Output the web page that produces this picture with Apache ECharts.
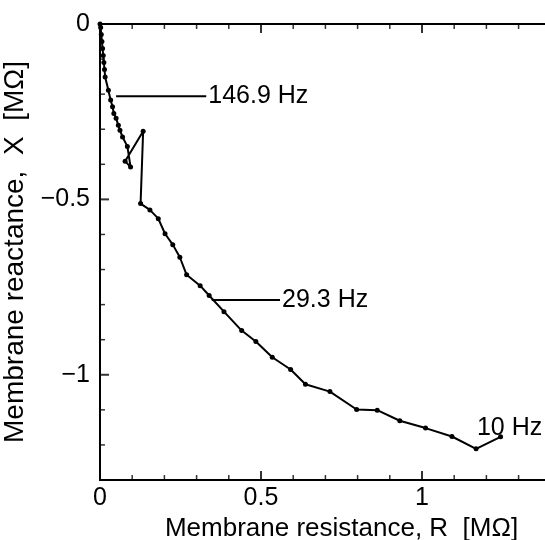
<!DOCTYPE html>
<html>
<head>
<meta charset="utf-8">
<script src="https://cdn.jsdelivr.net/npm/echarts@6/dist/echarts.min.js"></script>
<style>
  html,body{margin:0;padding:0;background:#fff;}
  #graph1{width:545px;height:540px;}
</style>
</head>
<body>
<div id="graph1"></div>
<script>
// membrane resistance R / reactance X, high freq (origin) -> 10 Hz
var resistance=[0,0.002,0.004,0.006,0.008,0.010,0.012,0.014,0.016,0.026,0.033,0.039,0.043,0.050,0.057,0.062,0.070,0.085,0.095,0.078,0.134,0.126,
  0.155,0.181,0.202,0.226,0.248,0.269,0.311,0.339,0.385,0.440,0.484,0.535,0.592,0.638,0.714,0.797,0.861,0.931,1.011,1.093,1.168,1.244];
var reactance=[0,-0.01,-0.03,-0.05,-0.07,-0.09,-0.11,-0.13,-0.151,-0.189,-0.217,-0.236,-0.255,-0.269,-0.289,-0.303,-0.322,-0.349,-0.408,-0.391,-0.306,-0.512,
  -0.530,-0.555,-0.598,-0.629,-0.665,-0.715,-0.746,-0.774,-0.820,-0.874,-0.905,-0.950,-0.985,-1.027,-1.048,-1.099,-1.101,-1.131,-1.152,-1.176,-1.211,-1.177];

// frequency markers
var lead146R=[0.05,0.33], lead146X=[-0.206,-0.206];
var lead29R=[0.347,0.559], lead29X=[-0.787,-0.787];
var freqLabels=['146.9 Hz','29.3 Hz','10 Hz'];

// tick labels / tick marks
var xLabels=[0,0.5,1];
var yLabels=[0,-0.5,-1];
var xMajor=[0.5,1];
var xMinor=[0.1,0.2,0.3,0.4,0.6,0.7,0.8,0.9,1.1,1.2,1.3,1.4];
var yMajor=[-0.5,-1];
var yMinor=[-0.1,-0.2,-0.3,-0.4,-0.6,-0.7,-0.8,-0.9,-1.1,-1.2];
var xMin=0, xMax=1.5, yMin=-1.3, yMax=0;

function pairs(a,b){return a.map(function(v,i){return [v,b[i]];});}
function atY(xs,y){return xs.map(function(x){return [x,y];});}
function atX(ys,x){return ys.map(function(y){return [x,y];});}

var main=document.getElementById("graph1");
var myChart=echarts.init(main);
var font='Liberation Sans';

function lastLabel(data,text,pos,offset){
  var i=data.length-1;
  data[i]={value:data[i],label:{show:true,position:pos,distance:2,offset:offset,formatter:text,
    color:'#000',fontSize:25,fontFamily:font}};
  return data;
}

// axis ticks drawn as little rect marks
function ticks(data,size,offset){
  return {type:'scatter',data:data,symbol:'rect',symbolSize:size,symbolOffset:offset,clip:false,
    itemStyle:{color:'#000'},silent:true,z:3};
}
function leader(data){
  return {type:'line',data:data,symbol:'circle',symbolSize:0.1,showSymbol:true,
    itemStyle:{color:'#000'},lineStyle:{color:'#000',width:2}};
}

var option={
  animation:false,
  grid:{left:100,top:24,width:483,height:456,outerBoundsMode:'none',
    show:true,borderColor:'#000',borderWidth:2,backgroundColor:'transparent'},
  xAxis:{
    type:'value',min:xMin,max:xMax,interval:0.5,position:'bottom',
    splitLine:{show:false},
    axisLine:{show:true,onZero:false,lineStyle:{color:'#000',width:2}},
    axisTick:{show:false},
    axisLabel:{show:true,margin:6,color:'#000',fontSize:25,fontFamily:font,
      formatter:function(v){return xLabels.indexOf(v)>=0?String(v):'';}},
    name:'Membrane resistance, R  [MΩ]',nameLocation:'middle',nameGap:36,
    nameTextStyle:{color:'#000',fontSize:26,fontFamily:font}
  },
  yAxis:{
    type:'value',min:yMin,max:yMax,interval:0.1,position:'left',
    splitLine:{show:false},
    axisLine:{show:true,onZero:false,lineStyle:{color:'#000',width:2}},
    axisTick:{show:false},
    axisLabel:{show:true,margin:10,color:'#000',fontSize:25,fontFamily:font,
      formatter:function(v){
        var r=Math.round(v*10)/10;
        if(yLabels.indexOf(r)<0) return '';
        return r<0?'\u2212'+String(-r):String(r);
      }},
    name:'Membrane reactance,  X  [MΩ]',nameLocation:'middle',nameGap:42,
    nameTextStyle:{color:'#000',fontSize:28,fontFamily:font}
  },
  series:[{
    type:'line',
    data:lastLabel(pairs(resistance,reactance),freqLabels[2],'top',[9,8]),
    symbol:'circle',symbolSize:5,
    itemStyle:{color:'#000'},
    lineStyle:{color:'#000',width:2}
  },
  leader(lastLabel(pairs(lead146R,lead146X),freqLabels[0],'right',[0,0])),
  leader(lastLabel(pairs(lead29R,lead29X),freqLabels[1],'right',[0,0])),
  ticks(atY(xMajor,yMin),[2,9],[0,-4.5]),
  ticks(atY(xMinor,yMin),[1.5,5],[0,-2.5]),
  ticks(atY(xMajor,yMax),[2,9],[0,4.5]),
  ticks(atY(xMinor,yMax),[1.5,5],[0,2.5]),
  ticks(atX(yMajor,xMin),[9,2],[4.5,0]),
  ticks(atX(yMinor,xMin),[5,1.5],[2.5,0])
  ]
};

myChart.setOption(option);
</script>
</body>
</html>
